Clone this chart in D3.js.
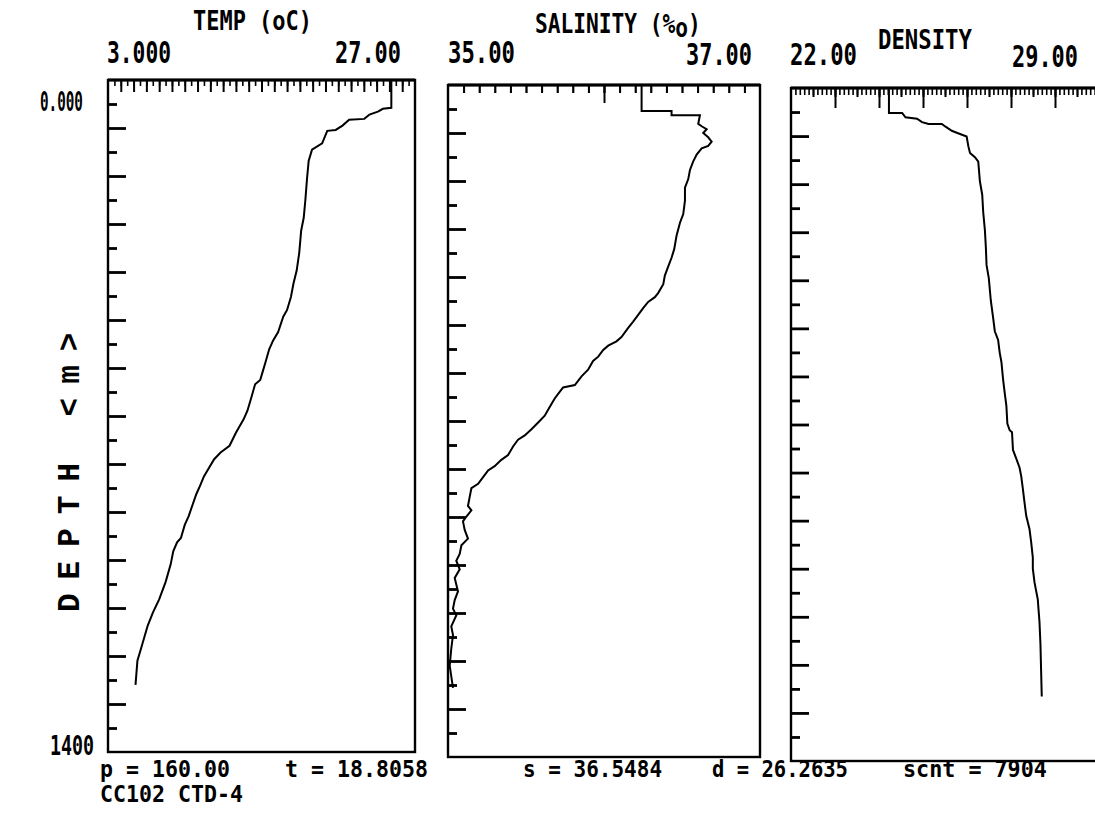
<!DOCTYPE html>
<html>
<head>
<meta charset="utf-8">
<script src="https://cdn.jsdelivr.net/npm/d3@7"></script>
<style>
  body { margin: 0; background: #fff; }
  svg { display: block; }
</style>
</head>
<body>
<script>
// CTD cast CC102 CTD-4, values
const tempDepth = [0,58,60,66,72,81,83,95,104,106,132,145,168,205,250,287,314,360,397,424,452,479,493,525,543,561,589,607,625,634,662,689,707,721,735,762,776,790,808,826,845,863,886,909,927,954,963,982,1009,1046,1082,1110,1137,1183,1210,1260];
const tempValues = [25.15,25.15,24.49,24.10,23.44,23.04,21.85,21.33,20.80,20.14,19.74,18.95,18.69,18.56,18.43,18.30,18.10,17.95,17.75,17.50,17.30,17.00,16.70,16.30,15.90,15.60,15.30,15.10,14.90,14.50,14.20,13.90,13.60,13.30,13.00,12.50,11.80,11.30,10.90,10.50,10.20,9.90,9.60,9.30,9.00,8.70,8.40,8.10,7.90,7.50,7.00,6.50,6.10,5.60,5.30,5.15];

const salDepth = [0,54,54,63,63,81,86,92,100,109,118,127,132,145,159,177,196,214,241,269,287,314,342,360,378,397,415,433,442,452,465,479,493,506,525,534,543,552,566,575,593,607,625,630,639,653,671,689,703,717,730,739,753,771,781,794,803,817,831,840,858,877,886,899,909,927,945,959,977,991,1009,1027,1055,1073,1091,1105,1128,1146,1174,1210,1256];
const salValues = [36.241,36.241,36.433,36.433,36.615,36.604,36.626,36.658,36.636,36.668,36.690,36.668,36.626,36.594,36.572,36.551,36.540,36.519,36.519,36.508,36.487,36.465,36.450,36.433,36.412,36.390,36.380,36.348,36.326,36.283,36.251,36.219,36.187,36.155,36.112,36.080,36.027,35.995,35.963,35.930,35.898,35.856,35.813,35.738,35.717,35.684,35.652,35.620,35.578,35.535,35.492,35.449,35.417,35.385,35.342,35.299,35.257,35.225,35.193,35.150,35.139,35.128,35.150,35.118,35.096,35.107,35.128,35.086,35.075,35.053,35.075,35.043,35.064,35.043,35.032,35.053,35.021,35.032,35.021,35.011,35.032];

const denDepth = [0,52,52,61,64,71,75,75,80,89,93,101,121,135,144,153,194,222,258,295,332,368,396,442,478,506,524,551,570,606,634,661,698,712,716,753,771,790,808,835,863,890,918,945,977,1000,1028,1046,1064,1083,1110,1156,1211,1266];
const denValues = [24.226,24.226,24.526,24.602,24.865,24.977,25.128,25.429,25.504,25.654,25.767,25.992,26.030,26.068,26.180,26.256,26.293,26.346,26.368,26.406,26.429,26.444,26.496,26.541,26.594,26.632,26.707,26.744,26.782,26.820,26.857,26.895,26.917,26.970,27.023,27.045,27.120,27.195,27.233,27.271,27.308,27.346,27.421,27.459,27.496,27.496,27.534,27.571,27.609,27.624,27.647,27.669,27.684,27.699];

const depthRange = [0, 1400];
const depthLabels = ["0.000", "1400"];
const panelTitles = ["TEMP (oC)", "SALINITY (%o)", "DENSITY"];
const panelDomains = [[3, 27], [35, 37], [22, 29]];
const rangeLabels = [["3.000", "27.00"], ["35.00", "37.00"], ["22.00", "29.00"]];
const readouts = ["p = 160.00", "t = 18.8058", "s = 36.5484", "d = 26.2635", "scnt = 7904"];
const stationLabel = "CC102 CTD-4";

const W = 1095, H = 828;
const svg = d3.select("body").append("svg").attr("width", W).attr("height", H);
const FONT = "'DejaVu Sans Mono', monospace";

// boxes drift down a little to the right (the sheet was scanned at a slight tilt)
const boxes = [
  { x0: 108, x1: 415, y0: 80, y1: 752 },
  { x0: 448, x1: 760, y0: 85, y1: 757 },
  { x0: 791, x1: 1099, y0: 88, y1: 761 }
];
// hanging ticks along the top edge of each box
const topTicks = [
  { minor: 0.5, minorLen: 6, major: 1, majorLen: 12, long: null, longLen: 0 },
  { minor: 0.1, minorLen: 8, major: 0.1, majorLen: 8, long: [36], longLen: 18 },
  { minor: 0.1, minorLen: 7, major: 0.5, majorLen: 9, long: d3.range(23, 29), longLen: 20 }
];
const series = [
  { depth: tempDepth, vals: tempValues },
  { depth: salDepth, vals: salValues },
  { depth: denDepth, vals: denValues }
];

// narrow plotter lettering: draw at full height, then squeeze to the wanted width
function squeeze(t, x, y, width) {
  const natural = t.node().getComputedTextLength();
  t.attr("transform", `translate(${x},${y}) scale(${(width / natural).toFixed(3)},1)`);
  return t;
}
function label(x, y, text, width, size) {
  const t = svg.append("text")
    .attr("font-family", FONT)
    .attr("font-weight", "bold")
    .attr("font-size", size)
    .attr("fill", "#000")
    .text(text);
  return squeeze(t, x, y, width);
}

boxes.forEach((b, i) => {
  const x = d3.scaleLinear().domain(panelDomains[i]).range([b.x0, b.x1]);
  const y = d3.scaleLinear().domain(depthRange).range([b.y0, b.y1]);
  const g = svg.append("g");

  // frame
  g.append("rect")
    .attr("x", b.x0).attr("y", b.y0)
    .attr("width", b.x1 - b.x0).attr("height", b.y1 - b.y0)
    .attr("fill", "none").attr("stroke", "#000").attr("stroke-width", 2.4);
  g.append("line")
    .attr("x1", b.x0).attr("x2", b.x1).attr("y1", b.y0).attr("y2", b.y0)
    .attr("stroke", "#000").attr("stroke-width", 3);

  // depth ticks on the left edge: every 50 m, long at each 100 m
  const addDepthAxis = (vals, len) => {
    const ax = g.append("g").attr("transform", `translate(${b.x0},0)`)
      .call(d3.axisRight(y).tickValues(vals).tickSize(len).tickFormat(""));
    ax.select(".domain").remove();
    ax.selectAll("line").attr("stroke", "#000").attr("stroke-width", 2.8);
  };
  addDepthAxis(d3.range(50, 1400, 100), 9);
  addDepthAxis(d3.range(100, 1400, 100), 18);

  // value ticks hanging from the top edge
  const t = topTicks[i];
  const dom = panelDomains[i];
  const addTop = (vals, len, w) => {
    const ax = g.append("g").attr("transform", `translate(0,${b.y0})`)
      .call(d3.axisBottom(x).tickValues(vals).tickSize(len).tickFormat(""));
    ax.select(".domain").remove();
    ax.selectAll("line").attr("stroke", "#000").attr("stroke-width", w);
  };
  const n = Math.round((dom[1] - dom[0]) / t.minor);
  addTop(d3.range(1, n).map(k => dom[0] + k * t.minor), t.minorLen, 1.6);
  const nm = Math.round((dom[1] - dom[0]) / t.major);
  addTop(d3.range(1, nm).map(k => dom[0] + k * t.major), t.majorLen, 2);
  if (t.long) addTop(t.long, t.longLen, 2);

  // profile trace
  const s = series[i];
  const line = d3.line()
    .x(k => x(s.vals[k]))
    .y(k => y(s.depth[k]));
  g.append("path")
    .attr("d", line(d3.range(s.depth.length)))
    .attr("fill", "none")
    .attr("stroke", "#000")
    .attr("stroke-width", 2)
    .attr("stroke-linejoin", "miter");
});

// titles
label(193, 30, panelTitles[0], 119, 27);
const salTitle = svg.append("text")
  .attr("font-family", FONT).attr("font-weight", "bold").attr("font-size", 27)
  .attr("fill", "#000");
salTitle.append("tspan").text("SALINITY (%");
salTitle.append("tspan").attr("dy", 4).text("o");
salTitle.append("tspan").attr("dy", -4).text(")");
squeeze(salTitle, 535, 33, 166);
label(878, 49, panelTitles[2], 94, 27);

// axis range labels
label(107, 63, rangeLabels[0][0], 64, 30);
label(335, 63, rangeLabels[0][1], 66, 30);
label(448, 63, rangeLabels[1][0], 67, 30);
label(686, 65, rangeLabels[1][1], 66, 30);
label(790, 65, rangeLabels[2][0], 67, 30);
label(1012, 67, rangeLabels[2][1], 66, 30);

// depth range labels
label(40, 111, depthLabels[0], 43, 26);
label(50, 755, depthLabels[1], 44, 26);

// rotated axis name
svg.append("text")
  .attr("transform", "translate(79,612) rotate(-90)")
  .attr("font-family", "'Liberation Mono', 'Courier New', monospace")
  .attr("font-weight", "bold")
  .attr("font-size", 31)
  .attr("letter-spacing", 14)
  .attr("fill", "#000")
  .text("DEPTH  <m>");

// readouts under the panels
const readX = [100, 285, 523, 712, 903];
const readW = [130, 143, 139, 136, 144];
readouts.forEach((r, i) => label(readX[i], 777, r, readW[i], 23));
label(100, 802, stationLabel, 143, 23);
</script>
</body>
</html>
